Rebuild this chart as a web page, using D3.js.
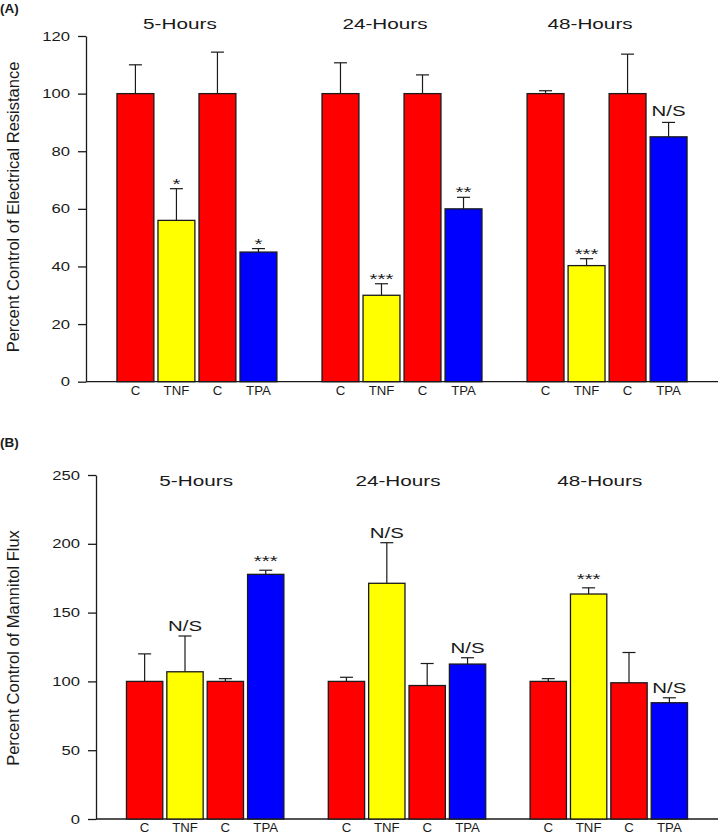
<!DOCTYPE html>
<html>
<head>
<meta charset="utf-8">
<script src="https://cdn.jsdelivr.net/npm/d3@7"></script>
<style>
  html, body { margin: 0; padding: 0; background: #fff; }
  svg { display: block; font-family: "Liberation Sans", Arial, sans-serif; }
</style>
</head>
<body>
<svg id="chart" width="720" height="837"></svg>
<script>
// ---- data ----
const timeGroups = ["5-Hours", "24-Hours", "48-Hours"];
const categories = ["C", "TNF", "C", "TPA"];
const categoryColors = ["#ff0000", "#ffff00", "#ff0000", "#0000ff"];

// Panel A: Percent Control of Electrical Resistance
const resistance5h  = [100, 56, 100, 45];
const resistance24h = [100, 30, 100, 60];
const resistance48h = [100, 40.3, 100, 85];
const resistanceErr5h  = [10, 11, 14.4, 1.2];
const resistanceErr24h = [10.7, 4, 6.5, 4];
const resistanceErr48h = [1, 2.4, 13.7, 5];
const resistanceSig5h  = ["", "*", "", "*"];
const resistanceSig24h = ["", "***", "", "**"];
const resistanceSig48h = ["", "***", "", "N/S"];
const resistanceTicks = [0, 20, 40, 60, 80, 100, 120];

// Panel B: Percent Control of Mannitol Flux
const mannitol5h  = [100, 107, 100, 177.8];
const mannitol24h = [100, 171.3, 97, 112.6];
const mannitol48h = [100, 163.5, 99, 84.5];
const mannitolErr5h  = [20, 26, 2, 3];
const mannitolErr24h = [3, 29.5, 16, 4.6];
const mannitolErr48h = [2, 4.5, 22, 3.6];
const mannitolSig5h  = ["", "N/S", "", "***"];
const mannitolSig24h = ["", "N/S", "", "N/S"];
const mannitolSig48h = ["", "***", "", "N/S"];
const mannitolTicks = [0, 50, 100, 150, 200, 250];

const svg = d3.select("#chart");
const INK = "#1a1a1a";

function stretch(sel, k) {
  sel.each(function () {
    const w = this.getComputedTextLength();
    if (w > 0) {
      this.setAttribute("textLength", w * k);
      this.setAttribute("lengthAdjust", "spacingAndGlyphs");
    }
  });
}

function panel(cfg) {
  const g = svg.append("g");
  const means = cfg.means;
  const errs = cfg.errs;
  const sigs = cfg.sigs;

  const rows = [];
  timeGroups.forEach((tg, gi) => {
    categories.forEach((c, ci) => {
      rows.push({ slot: gi * 5 + ci, group: gi, cat: c, color: categoryColors[ci],
                  v: means[gi][ci], e: errs[gi][ci], sig: sigs[gi][ci] });
    });
  });

  const x = d3.scaleBand().domain(d3.range(14))
    .range([cfg.left, cfg.right]).paddingInner(0.1).paddingOuter(0.755);
  const y = d3.scaleLinear().domain(cfg.domain).range([cfg.bottom, cfg.top]);

  // y axis
  const ya = g.append("g").attr("transform", `translate(${cfg.left},0)`)
    .call(d3.axisLeft(y).tickValues(cfg.ticks).tickSize(8).tickPadding(8).tickSizeOuter(0));
  ya.select(".domain").attr("stroke", INK).attr("stroke-width", 1.3);
  ya.selectAll(".tick line").attr("stroke", INK).attr("stroke-width", 1.3);
  ya.selectAll(".tick text").attr("font-size", 12.5).attr("fill", INK)
    .attr("font-family", "Liberation Sans, Arial, sans-serif");
  stretch(ya.selectAll(".tick text"), 1.33);

  // x axis baseline
  g.append("line").attr("x1", cfg.left).attr("x2", cfg.right)
    .attr("y1", y(0)).attr("y2", y(0)).attr("stroke", INK).attr("stroke-width", 1.3);

  // error bars
  const eb = g.append("g").selectAll("g").data(rows).join("g");
  eb.append("line")
    .attr("x1", d => x(d.slot) + x.bandwidth() / 2).attr("x2", d => x(d.slot) + x.bandwidth() / 2)
    .attr("y1", d => y(d.v)).attr("y2", d => y(d.v + d.e))
    .attr("stroke", INK).attr("stroke-width", 1.2);
  eb.append("line")
    .attr("x1", d => x(d.slot) + x.bandwidth() / 2 - 6.5).attr("x2", d => x(d.slot) + x.bandwidth() / 2 + 6.5)
    .attr("y1", d => y(d.v + d.e)).attr("y2", d => y(d.v + d.e))
    .attr("stroke", INK).attr("stroke-width", 1.2);

  // bars
  g.append("g").selectAll("rect").data(rows).join("rect")
    .attr("x", d => x(d.slot)).attr("width", x.bandwidth())
    .attr("y", d => y(d.v)).attr("height", d => y(0) - y(d.v))
    .attr("fill", d => d.color).attr("stroke", INK).attr("stroke-width", 1.3);

  // category labels
  const cl = g.append("g").selectAll("text").data(rows).join("text")
    .attr("x", d => x(d.slot) + x.bandwidth() / 2).attr("y", y(0) + 13)
    .attr("text-anchor", "middle").attr("font-size", 12).attr("fill", INK)
    .text(d => d.cat);
  stretch(cl, 1.1);

  // significance labels
  const sl = g.append("g").selectAll("text").data(rows.filter(d => d.sig)).join("text")
    .attr("x", d => x(d.slot) + x.bandwidth() / 2)
    .attr("y", d => y(d.v + d.e) + (d.sig === "N/S" ? -cfg.nsGap : cfg.starOffset))
    .attr("text-anchor", "middle")
    .attr("font-size", d => d.sig === "N/S" ? 15 : 15).attr("fill", INK)
    .text(d => d.sig);
  stretch(sl, 1.36);

  // group titles
  const tt = g.append("g").selectAll("text").data(timeGroups).join("text")
    .attr("x", (d, i) => (x(i * 5) + x(i * 5 + 3) + x.bandwidth()) / 2 + cfg.titleShift)
    .attr("y", cfg.titleY)
    .attr("text-anchor", "middle").attr("font-size", 15).attr("fill", INK)
    .text(d => d);
  stretch(tt, 1.38);

  // y title
  g.append("text")
    .attr("transform", `translate(19,${cfg.yTitleCenter}) rotate(-90)`)
    .attr("text-anchor", "middle").attr("font-size", 16.5).attr("fill", INK)
    .text(cfg.yTitle);

  // panel label
  g.append("text").attr("x", 0).attr("y", cfg.labelY)
    .attr("font-size", 13.5).attr("font-weight", "bold").attr("fill", INK)
    .text(cfg.label);
}

panel({
  label: "(A)", labelY: 13,
  yTitle: "Percent Control of Electrical Resistance", yTitleCenter: 207,
  means: [resistance5h, resistance24h, resistance48h],
  errs: [resistanceErr5h, resistanceErr24h, resistanceErr48h],
  sigs: [resistanceSig5h, resistanceSig24h, resistanceSig48h],
  ticks: resistanceTicks, domain: [0, 120],
  left: 86, right: 718, top: 36, bottom: 381.7,
  titleY: 29, titleShift: -17, starOffset: 0, nsGap: 6
});

panel({
  label: "(B)", labelY: 447,
  yTitle: "Percent Control of Mannitol Flux", yTitleCenter: 648,
  means: [mannitol5h, mannitol24h, mannitol48h],
  errs: [mannitolErr5h, mannitolErr24h, mannitolErr48h],
  sigs: [mannitolSig5h, mannitolSig24h, mannitolSig48h],
  ticks: mannitolTicks, domain: [0, 250],
  left: 96, right: 718, top: 475, bottom: 819,
  titleY: 486, titleShift: -9, starOffset: -4, nsGap: 5
});
</script>
</body>
</html>
